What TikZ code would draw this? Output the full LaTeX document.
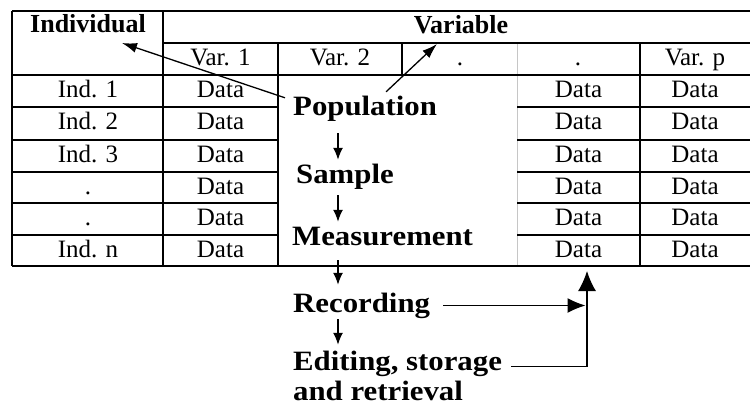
\documentclass[tikz,border=0pt]{standalone}
\usepackage{fontspec}
\setmainfont{Liberation Serif}
\newfontfamily\procfont[FakeStretch=1.1]{Liberation Serif}
\usetikzlibrary{arrows.meta}
\begin{document}
\begin{tikzpicture}[x=1pt,y=-1pt,
  grid/.style={line width=1.1pt},
  border/.style={line width=1.5pt},
  faint/.style={line width=0.6pt,gray!45},
  cell/.style={anchor=base,inner sep=0pt,font=\fontsize{25}{25}\selectfont},
  head/.style={anchor=base,inner sep=0pt,font=\fontsize{26}{26}\selectfont\bfseries},
  proc/.style={anchor=base west,inner sep=0pt,text height=19pt,text depth=6pt,font=\procfont\bfseries\fontsize{28}{28}\selectfont},
  varrow/.style={line width=1.5pt,-{Latex[length=12pt,width=10pt]}},
  darrow/.style={line width=1.3pt,-{Latex[length=15pt,width=10pt]}},
  harrow/.style={line width=1.3pt,-{Latex[length=18pt,width=15pt]}},
  uarrow/.style={line width=1.3pt,-{Latex[length=20pt,width=18pt]}}]
\useasboundingbox (0,0) rectangle (750,407);
\fill[white] (0,0) rectangle (750,407);

% table grid
\draw[faint] (517,75) -- (517,266);
\draw[faint] (517,43) -- (517,75);
\draw[border] (12,11) -- (750,11);
\draw[border] (12,11) -- (12,266);
\draw[border] (12,266) -- (750,266);
\draw[grid] (163,11) -- (163,266);
\draw[grid] (163,43) -- (750,43);
\draw[grid] (12,75) -- (750,75);
\draw[grid] (278,43) -- (278,266);
\draw[grid] (402,43) -- (402,75);
\draw[grid] (640,43) -- (640,266);
\foreach \y in {107,140,172,203,235}{
  \draw[grid] (12,\y) -- (278,\y);
  \draw[grid] (517,\y) -- (750,\y);
}

% headers
\node[head] (hind) at (88,32) {Individual};
\node[head] (hvar) at (461,33) {Variable};
\node[cell] (v1) at (220.5,65) {Var. 1};
\node[cell] (v2) at (340,65) {Var. 2};
\node[cell] (v3) at (460,65) {.};
\node[cell] (v4) at (578,65) {.};
\node[cell] (vp) at (695,65) {Var. p};

% rows
\foreach \b/\lab [count=\i] in {97/Ind. 1,129/Ind. 2,162/Ind. 3,194/.,225/.,257/Ind. n}{
  \node[cell] (r\i) at (88,\b) {\lab};
  \node[cell] (d\i a) at (220.5,\b) {Data};
  \node[cell] (d\i b) at (578.5,\b) {Data};
  \node[cell] (d\i c) at (695,\b) {Data};
}

% process
\node[proc] (pop) at (293,115) {Population};
\node[proc] (samp) at (296,183) {Sample};
\node[proc] (meas) at (292,245) {Measurement};
\node[proc] (rec) at (293,312) {Recording};
\node[proc] (edit) at (293,370) {Editing, storage};
\node[proc] (edit2) at (293,400) {and retrieval};

\coordinate (ax) at (338,0);
\coordinate (indtip) at (122,43);
\coordinate (vartip) at (437,44);
\coordinate (up) at (587,271);

\draw[darrow] ([shift={(-8,2)}]pop.north west) -- (indtip);
\draw[darrow] ([shift={(21,-4)}]pop.north) -- (vartip);

\draw[varrow,shorten <=12pt,shorten >=4pt] (ax |- pop.south) -- (ax |- samp.north);
\draw[varrow,shorten <=6pt,shorten >=4pt] (ax |- samp.south) -- (ax |- meas.north);
\draw[varrow,shorten <=9pt,shorten >=8pt] (ax |- meas.south) -- (ax |- rec.north);
\draw[varrow,shorten <=1pt,shorten >=6pt] (ax |- rec.south) -- (ax |- edit.north);

\draw[uarrow] ([shift={(9,3)}]edit.east) -| (up);
\draw[harrow,shorten >=1.5pt] ([xshift=13pt]rec.east) -- (rec.east -| up);
\end{tikzpicture}
\end{document}
